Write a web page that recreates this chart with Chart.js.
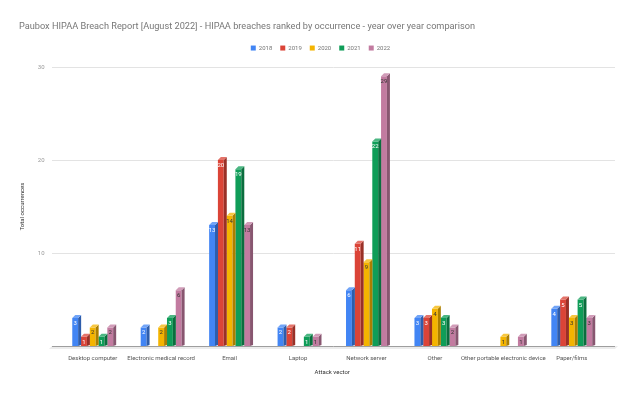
<!DOCTYPE html>
<html>
<head>
<meta charset="utf-8">
<script src="https://cdn.jsdelivr.net/npm/chart.js@4"></script>
<style>
html, body { margin: 0; padding: 0; background: #fff; }
</style>
</head>
<body>
<canvas id="breachChart" width="640" height="395"></canvas>
<script>
const vectors = [
  "Desktop computer",
  "Electronic medical record",
  "Email",
  "Laptop",
  "Network server",
  "Other",
  "Other portable electronic device",
  "Paper/films"
];

const years = ["2018", "2019", "2020", "2021", "2022"];

const counts2018 = [3, 2, 13, 2, 6, 3, 0, 4];
const counts2019 = [1, 0, 20, 2, 11, 3, 0, 5];
const counts2020 = [2, 2, 14, 0, 9, 4, 1, 3];
const counts2021 = [1, 3, 19, 1, 22, 3, 0, 5];
const counts2022 = [2, 6, 13, 1, 29, 2, 1, 3];

const yTicks = [0, 10, 20, 30];

const series = [counts2018, counts2019, counts2020, counts2021, counts2022];
const colors = ["#4285f4", "#db4437", "#f4b400", "#0f9d58", "#c27ba0"];
const labelColors = ["#fff", "#fff", "#333", "#fff", "#333"];

const DEPTH = 3;

function shade(hex, f) {
  const n = parseInt(hex.slice(1), 16);
  let r = (n >> 16) & 255, g = (n >> 8) & 255, b = n & 255;
  if (f < 1) { r *= f; g *= f; b *= f; }
  else { r += (255 - r) * (f - 1); g += (255 - g) * (f - 1); b += (255 - b) * (f - 1); }
  return "rgb(" + Math.round(r) + "," + Math.round(g) + "," + Math.round(b) + ")";
}

// a bit more room under the legend, and nudge it right
const legendGap = {
  id: "legendGap",
  afterInit(chart) {
    const lg = chart.legend;
    const fit = lg.fit;
    const draw = lg.draw;
    lg.fit = function () {
      fit.call(this);
      this.height += 6;
    };
    lg.draw = function () {
      this.ctx.save();
      this.ctx.translate(8, 0);
      draw.call(this);
      this.ctx.restore();
    };
  }
};

// grid lines + floor, a bit wider than the plot like the sheets chart
const gridPlugin = {
  id: "grid3d",
  beforeDatasetsDraw(chart) {
    const ctx = chart.ctx;
    const area = chart.chartArea;
    const y = chart.scales.y;
    const x0 = area.left - 6.5;
    const x1 = area.right + 9;
    ctx.save();
    y.ticks.forEach(t => {
      if (t.value === 0) return;
      const py = Math.round(y.getPixelForValue(t.value)) + 0.5;
      ctx.strokeStyle = "#e3e3e3";
      ctx.lineWidth = 1;
      ctx.beginPath();
      ctx.moveTo(x0, py);
      ctx.lineTo(x1, py);
      ctx.stroke();
    });
    const base = Math.round(y.getPixelForValue(0));
    ctx.fillStyle = "#ececec";
    ctx.beginPath();
    ctx.moveTo(x0 - 3, base + 3);
    ctx.lineTo(x0, base);
    ctx.lineTo(x1 + 3, base);
    ctx.lineTo(x1, base + 3);
    ctx.closePath();
    ctx.fill();
    ctx.strokeStyle = "#9e9e9e";
    ctx.beginPath();
    ctx.moveTo(x0, base + 0.5);
    ctx.lineTo(x1, base + 0.5);
    ctx.stroke();
    ctx.restore();
  }
};

// side + top faces and the value labels
const barPlugin = {
  id: "bar3d",
  afterDatasetsDraw(chart) {
    const ctx = chart.ctx;
    ctx.save();
    chart.data.datasets.forEach((ds, di) => {
      const meta = chart.getDatasetMeta(di);
      meta.data.forEach((el, i) => {
        const v = ds.data[i];
        if (!v) return;
        const p = el.getProps(["x", "y", "base", "width"], true);
        const L = p.x - p.width / 2;
        const R = p.x + p.width / 2;
        ctx.fillStyle = shade(colors[di], 0.7);
        ctx.beginPath();
        ctx.moveTo(R, p.y);
        ctx.lineTo(R + DEPTH, p.y - DEPTH);
        ctx.lineTo(R + DEPTH, p.base - 1);
        ctx.lineTo(R, p.base);
        ctx.closePath();
        ctx.fill();
        ctx.fillStyle = shade(colors[di], 1.25);
        ctx.beginPath();
        ctx.moveTo(L, p.y);
        ctx.lineTo(L + DEPTH, p.y - DEPTH);
        ctx.lineTo(R + DEPTH, p.y - DEPTH);
        ctx.lineTo(R, p.y);
        ctx.closePath();
        ctx.fill();
        ctx.fillStyle = labelColors[di];
        ctx.font = "6px Roboto";
        ctx.textAlign = "center";
        ctx.textBaseline = "middle";
        ctx.fillText(String(v), p.x, p.y + 5.5);
      });
    });
    ctx.restore();
  }
};

new Chart(document.getElementById("breachChart"), {
  type: "bar",
  data: {
    labels: vectors,
    datasets: years.map((yr, i) => ({
      label: yr,
      data: series[i],
      backgroundColor: colors[i],
      borderWidth: 0,
      barPercentage: 0.67,
      categoryPercentage: 0.64
    }))
  },
  options: {
    responsive: false,
    animation: false,
    layout: {
      padding: { left: 19, right: 34, top: 0, bottom: 10 }
    },
    plugins: {
      title: {
        display: true,
        text: "Paubox HIPAA Breach Report [August 2022] - HIPAA breaches ranked by occurrence - year over year comparison",
        align: "start",
        color: "#777",
        font: { family: "Roboto", size: 9.2, weight: "normal" },
        padding: { top: 21, bottom: 5 }
      },
      legend: {
        position: "top",
        labels: {
          boxWidth: 5,
          boxHeight: 5,
          padding: 8,
          color: "#757575",
          font: { family: "Roboto", size: 6 }
        }
      },
      tooltip: { enabled: false }
    },
    scales: {
      x: {
        grid: { display: false, drawTicks: false },
        border: { display: false },
        ticks: {
          color: "#555",
          padding: 9,
          maxRotation: 0,
          autoSkip: false,
          font: { family: "Roboto", size: 6 }
        },
        title: {
          display: true,
          text: "Attack vector",
          color: "#333",
          padding: { top: 0, bottom: 9 },
          font: { family: "Roboto", size: 6 }
        },
        afterFit(s) { s.height = 39; }
      },
      y: {
        min: 0,
        max: 30,
        afterBuildTicks(s) { s.ticks = yTicks.map(v => ({ value: v })); },
        grid: { display: false, drawTicks: false },
        border: { display: false },
        ticks: {
          color: "#999",
          padding: 14,
          font: { family: "Roboto", size: 6 },
          callback: v => (v === 0 ? "" : v)
        },
        title: {
          display: true,
          text: "Total occurrences",
          color: "#333",
          padding: { top: 0, bottom: 0 },
          font: { family: "Roboto", size: 6 }
        },
        afterFit(s) { s.width = 39.5; }
      }
    }
  },
  plugins: [legendGap, gridPlugin, barPlugin]
});
</script>
</body>
</html>
